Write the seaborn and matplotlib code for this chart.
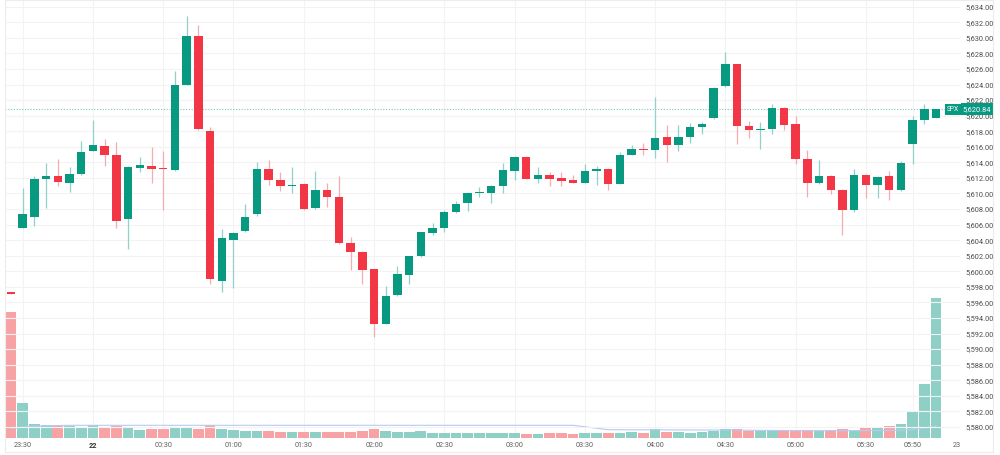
import numpy as np
import pandas as pd
import seaborn as sns
from matplotlib import pyplot as plt
from matplotlib import ticker
from matplotlib.patches import Rectangle

# 5 minute candles, SPX, from 23:25 to 06:00
opens = [5597.3, 5605.6, 5607.0, 5611.8, 5612.3, 5611.4, 5612.5, 5615.5, 5616.1, 5614.9,
         5606.7, 5613.3, 5613.5, 5613.3, 5613.0, 5624.0, 5630.2, 5618.0, 5598.8, 5604.0,
         5605.2, 5607.4, 5613.2, 5611.7, 5611.0, 5611.2, 5608.1, 5610.5, 5609.5, 5603.6,
         5602.5, 5600.3, 5593.2, 5596.9, 5599.5, 5601.9, 5604.9, 5605.5, 5607.6, 5608.8,
         5610.0, 5610.1, 5610.9, 5612.9, 5614.7, 5611.9, 5612.4, 5612.0, 5611.7, 5611.4,
         5612.9, 5613.2, 5611.2, 5615.0, 5615.7, 5615.6, 5617.2, 5616.2, 5617.3, 5618.6,
         5619.7, 5623.8, 5626.6, 5618.7, 5618.1, 5618.3, 5621.0, 5618.9, 5614.4, 5611.3,
         5612.2, 5610.5, 5607.9, 5612.4, 5611.1, 5612.3, 5610.4, 5616.3, 5619.4, 5619.7]
highs = [5597.3, 5610.7, 5612.3, 5613.9, 5614.4, 5613.4, 5616.7, 5619.4, 5617.0, 5616.6,
         5613.5, 5614.7, 5616.0, 5615.4, 5625.7, 5632.8, 5631.7, 5618.5, 5605.4, 5605.0,
         5608.7, 5614.1, 5614.3, 5612.7, 5613.4, 5611.3, 5612.9, 5611.4, 5612.3, 5604.4,
         5602.6, 5600.3, 5598.1, 5600.7, 5602.0, 5605.1, 5606.2, 5607.9, 5609.0, 5610.2,
         5610.8, 5611.1, 5613.9, 5614.8, 5614.8, 5613.4, 5612.8, 5612.7, 5612.4, 5613.8,
         5613.5, 5613.3, 5615.3, 5616.2, 5616.5, 5622.4, 5618.8, 5618.8, 5619.0, 5619.2,
         5623.7, 5628.2, 5626.7, 5619.3, 5619.2, 5621.5, 5621.1, 5620.0, 5615.6, 5614.3,
         5612.4, 5610.6, 5613.1, 5612.5, 5612.2, 5612.9, 5614.2, 5620.0, 5621.5, 5620.9]
lows = [5597.1, 5605.5, 5605.8, 5608.1, 5611.0, 5610.2, 5612.4, 5615.4, 5613.5, 5605.5,
        5602.8, 5612.8, 5611.3, 5607.9, 5612.9, 5623.9, 5618.2, 5598.4, 5597.3, 5597.8,
        5605.1, 5607.1, 5611.1, 5610.3, 5610.0, 5607.9, 5608.0, 5608.2, 5603.5, 5600.2,
        5598.3, 5591.5, 5593.2, 5596.8, 5598.4, 5601.8, 5604.6, 5605.0, 5607.5, 5607.7,
        5609.6, 5608.8, 5610.0, 5611.7, 5611.8, 5611.4, 5611.0, 5611.0, 5611.3, 5611.3,
        5611.1, 5610.4, 5611.2, 5614.9, 5614.9, 5614.6, 5614.1, 5615.4, 5616.5, 5617.6,
        5619.6, 5623.7, 5616.4, 5617.1, 5615.7, 5617.7, 5618.1, 5613.8, 5609.6, 5611.2,
        5609.9, 5604.6, 5607.6, 5609.4, 5609.4, 5609.2, 5610.3, 5613.8, 5618.9, 5619.7]
closes = [5597.1, 5607.4, 5611.9, 5612.2, 5611.5, 5612.5, 5615.3, 5616.2, 5615.0, 5606.4,
          5613.4, 5613.6, 5613.2, 5613.1, 5623.9, 5630.3, 5618.3, 5599.0, 5604.3, 5604.9,
          5607.0, 5613.1, 5611.7, 5610.9, 5611.1, 5608.0, 5610.4, 5609.5, 5603.6, 5602.5,
          5600.2, 5593.2, 5596.8, 5599.6, 5602.0, 5605.0, 5605.5, 5607.6, 5608.7, 5610.1,
          5610.2, 5611.0, 5613.0, 5614.7, 5611.8, 5612.4, 5611.8, 5611.6, 5611.3, 5612.9,
          5613.2, 5611.2, 5615.0, 5615.7, 5615.6, 5617.1, 5616.2, 5617.2, 5618.6, 5618.9,
          5623.6, 5626.6, 5618.7, 5618.1, 5618.3, 5621.0, 5618.8, 5614.4, 5611.3, 5612.2,
          5610.5, 5607.9, 5612.4, 5611.1, 5612.1, 5610.4, 5613.9, 5619.4, 5620.9, 5620.84]
volume = [125.7, 34.7, 14, 13, 12.3, 11.7, 11, 13.3, 11, 11.7,
          11.3, 8.3, 9, 9.3, 11.3, 10.7, 9.3, 13.3, 9.3, 8,
          6.7, 7.3, 7, 6.3, 6.3, 6.3, 6.3, 6.3, 6, 6,
          6.7, 9, 6.7, 5.7, 6, 6.7, 5.3, 5.3, 5.3, 5,
          4.7, 5, 5.3, 5, 4.3, 4.3, 5.3, 5, 4.3, 5.3,
          5.3, 5, 5.3, 6, 5.3, 9, 6, 6, 5.3, 6,
          7.3, 8.7, 9.3, 7, 7, 7, 7.3, 7.7, 8.3, 7.3,
          7.7, 8.7, 8.3, 10.3, 10.3, 12, 14, 26.3, 54.3, 140]
# volume moving average, read at a few bars
ma_bar = [0, 2, 5, 48, 51, 60, 68, 75, 77, 79]
ma_val = [9.5, 12, 12.7, 12.7, 8.3, 8.0, 7.3, 7.5, 8.5, 11.7]

tick_pos = [1, 7, 13, 19, 25, 31, 37, 43, 49, 55, 61, 67, 73, 77, 80.8]
tick_lab = ['23:30', '22', '00:30', '01:00', '01:30', '02:00', '02:30', '03:00',
            '03:30', '04:00', '04:30', '05:00', '05:30', '05:50', '23']
last_price = 5620.84

df = pd.DataFrame({'o': opens, 'h': highs, 'l': lows, 'c': closes, 'v': volume})
df['bar'] = np.arange(len(df))
df['dir'] = np.where(df['c'] >= df['o'], 'up', 'down')

UP, DOWN = '#089981', '#f23645'

sns.set_theme(style='white')
plt.rcParams['font.family'] = ['Roboto', 'DejaVu Sans']

fig = plt.figure(figsize=(10, 4.55), dpi=100)
rect = [0.005, 15 / 455, 0.955, 440 / 455]
axv = fig.add_axes(rect)
ax = fig.add_axes(rect, sharex=axv)
ax.patch.set_visible(False)

# volume
sns.barplot(data=df, x='bar', y='v', hue='dir', palette={'up': '#8fd0c6', 'down': '#f7a3a6'},
            dodge=False, native_scale=True, width=0.92, errorbar=None, saturation=1,
            legend=False, ax=axv, edgecolor='none')
sns.lineplot(x=ma_bar, y=ma_val, color='#b5cbf3', lw=0.8, ax=axv)
axv.set_ylim(-2, 438)
axv.set_yticks([])
axv.set_xlabel('')
axv.set_ylabel('')
axv.tick_params(axis='x', labelbottom=False, length=0)
for s in axv.spines.values():
    s.set_visible(False)

# candles
body_lo = np.minimum(df['o'], df['c'])
body_h = np.maximum(np.abs(df['c'] - df['o']), 0.15)
cols = np.where(df['dir'] == 'up', UP, DOWN)
wick_cols = np.where(df['dir'] == 'up', '#8fd3c8', '#f8aab1')
ax.vlines(df['bar'], df['l'], df['h'], colors=wick_cols, lw=0.9, zorder=2)
ax.bar(df['bar'], body_h, bottom=body_lo, width=0.72, color=cols, edgecolor='none', zorder=3)

ax.axhline(last_price, color='#7ccbbd', lw=0.8, ls=(0, (1, 1.5)), zorder=1)

ax.set_ylim(5578.31, 5634.87)
ax.set_xlim(-0.512, 81.04)
ax.set_yticks(np.arange(5580, 5635, 2))
ax.yaxis.set_major_formatter(ticker.FuncFormatter(lambda v, p: f'{v:,.2f}'))
ax.yaxis.tick_right()
ax.tick_params(axis='y', length=0, pad=3.6, labelsize=5.3, labelcolor='#4a4a4a')
ax.set_xticks(tick_pos)
ax.set_xticklabels(tick_lab)
ax.tick_params(axis='x', length=0, pad=1.5, labelsize=5.2, labelcolor='#5d5d5d', labelbottom=True)
for lab in ax.get_xticklabels():
    if lab.get_text() == '22':
        lab.set_fontweight('bold')
        lab.set_color('#333333')
ax.grid(axis='y', color='#f3f3f3', lw=0.8, zorder=0)
for x in tick_pos[:-1]:
    axv.axvline(x, color='#f3f3f3', lw=0.8, zorder=0)
for s in ax.spines.values():
    s.set_visible(False)

# price tags
tr = ax.get_yaxis_transform()
ax.text(0.9865, last_price, 'SPX', transform=tr, fontsize=4.8, color='white', va='center', ha='left',
        bbox=dict(boxstyle='square,pad=0.3', fc=UP, ec='none'), clip_on=False, zorder=5)
ax.text(1.003, last_price, f'{last_price:,.2f}', transform=tr, fontsize=5.3, color='white',
        va='center', ha='left', bbox=dict(boxstyle='square,pad=0.3', fc=UP, ec='none'),
        clip_on=False, zorder=5)

fig.patches.append(Rectangle((0.005, 3 / 455), 0.988, 452 / 455, transform=fig.transFigure,
                             fill=False, ec='#ececec', lw=0.8))

fig.savefig('out.png', dpi=100, facecolor='white')
